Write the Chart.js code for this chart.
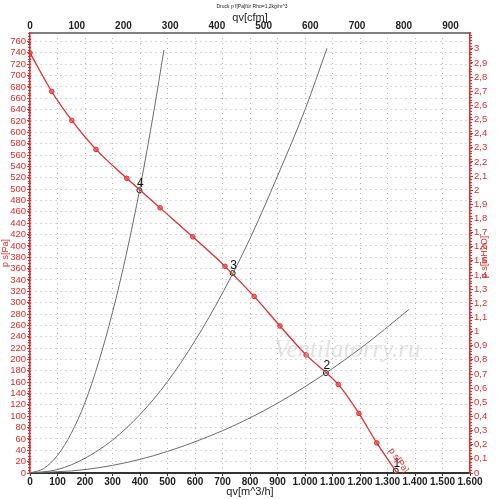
<!DOCTYPE html>
<html>
<head>
<meta charset="utf-8">
<script src="https://cdn.jsdelivr.net/npm/chart.js@4"></script>
<style>
    html, body { margin: 0; padding: 0; background: #fff; }
    #wrap { width: 500px; height: 499px; position: relative; }
</style>
</head>
<body>
<div id="wrap"><canvas id="fanChart"></canvas></div>
<script>
// fan curve p s over qv
const fanQ = [0, 79, 152, 240, 352, 473, 592, 709, 815, 909, 1004, 1121, 1196, 1261, 1335];
const fanP = [740, 672, 621, 570, 519, 467, 416, 364, 311, 259, 208, 156, 105, 53, 0];

// system curves (grey parabolas through the origin)
const sys4Q = [0, 50, 100, 150, 200, 250, 300, 350, 400, 450, 487];
const sys4P = [0, 8, 31, 70, 124, 196, 283, 385, 502, 636, 745];
const sys3Q = [0, 100, 200, 300, 400, 500, 600, 700, 800, 900, 1000, 1080];
const sys3P = [0, 6, 26, 58, 103, 161, 233, 317, 413, 523, 640, 748];
const sys2Q = [0, 200, 400, 600, 800, 1000, 1200, 1378];
const sys2P = [0, 6, 24, 55, 97, 152, 219, 288];

// operating points where the system curves cross the fan curve
const opQ = [1330, 1076, 737, 398];
const opP = [4, 176, 352, 498];
const opLabels = ["1", "2", "3", "4"];

const qvMax = 1600;
const paMax = 775;
const inH2OLabelMax = 3;
const cfmPerM3h = 1 / 1.699;
const inH2OPerPa = 1 / 249.089;

const RED = "#e32b2b";
const FONT = "'Liberation Sans', Arial, sans-serif";

function thousands(v) {
    if (v < 1000) return String(v);
    return Math.floor(v / 1000) + "." + String(v % 1000).padStart(3, "0");
}

function commaDecimal(v) {
    if (v > inH2OLabelMax + 0.01) return null;
    return String(Number(v.toFixed(1))).replace(".", ",");
}

function pts(xs, ys) {
    return xs.map((x, i) => ({ x, y: ys[i] }));
}

function systemCurve(xs, ys) {
    return {
        data: pts(xs, ys),
        showLine: true,
        borderColor: "#6b6b6b",
        borderWidth: 1,
        pointRadius: 0,
        cubicInterpolationMode: "monotone",
    };
}

// titles, rulers, point numbers and the watermark
const decorations = {
    id: "decorations",
    afterDraw(chart) {
        const { ctx, chartArea, scales } = chart;
        const y = scales.y;
        const y2 = scales.y2;
        ctx.save();

        // fine ruler marks on both pressure axes
        ctx.strokeStyle = RED;
        ctx.lineWidth = 1;
        for (let v = 0; v <= paMax; v += 5) {
            const py = Math.round(y.getPixelForValue(v)) + 0.5;
            ctx.beginPath();
            ctx.moveTo(chartArea.left - 2, py);
            ctx.lineTo(chartArea.left + 1, py);
            ctx.stroke();
        }
        for (let v = 0; v <= paMax * inH2OPerPa; v += 0.02) {
            const py = Math.round(y2.getPixelForValue(v)) + 0.5;
            ctx.beginPath();
            ctx.moveTo(chartArea.right - 1, py);
            ctx.lineTo(chartArea.right + 2, py);
            ctx.stroke();
        }

        // operating point numbers
        ctx.fillStyle = "#111";
        ctx.font = "12px " + FONT;
        ctx.textAlign = "center";
        ctx.textBaseline = "bottom";
        opLabels.forEach((label, i) => {
            const px = scales.x.getPixelForValue(opQ[i]);
            const py = y.getPixelForValue(opP[i]);
            ctx.fillText(label, px + 1, py - 1);
        });

        // curve label running along the fan curve near its end
        ctx.save();
        ctx.translate(scales.x.getPixelForValue(1340), y.getPixelForValue(22));
        ctx.rotate(55 * Math.PI / 180);
        ctx.fillStyle = RED;
        ctx.font = "9px " + FONT;
        ctx.textAlign = "center";
        ctx.textBaseline = "middle";
        ctx.fillText("p s[Pa]", 0, 0);
        ctx.restore();

        // axis titles
        ctx.fillStyle = "#222";
        ctx.textAlign = "center";
        ctx.textBaseline = "middle";
        ctx.font = "5px " + FONT;
        ctx.fillText("Druck p f[Pa]für Rho=1,2kg/m^3", 252, 7);
        ctx.font = "11px " + FONT;
        ctx.fillText("qv[cfm]", (chartArea.left + chartArea.right) / 2, 18);
        ctx.fillText("qv[m^3/h]", (chartArea.left + chartArea.right) / 2, 492);

        ctx.fillStyle = RED;
        ctx.font = "9px " + FONT;
        ctx.save();
        ctx.translate(6, (chartArea.top + chartArea.bottom) / 2);
        ctx.rotate(-Math.PI / 2);
        ctx.fillText("p s[Pa]", 0, 0);
        ctx.restore();
        ctx.save();
        ctx.translate(485, (chartArea.top + chartArea.bottom) / 2 + 4);
        ctx.rotate(-Math.PI / 2);
        ctx.fillText("p s[inH2O]", 0, 0);
        ctx.restore();

        // watermark
        ctx.font = "italic 25px 'Liberation Serif', serif";
        ctx.fillStyle = "rgba(190, 190, 190, 0.45)";
        ctx.textAlign = "left";
        ctx.fillText("Ventilatorry.ru", 274, 350);

        ctx.restore();
    },
};

const ctx = document.getElementById("fanChart");
new Chart(ctx, {
    type: "scatter",
    data: {
        datasets: [
            systemCurve(sys4Q, sys4P),
            systemCurve(sys3Q, sys3P),
            systemCurve(sys2Q, sys2P),
            {
                data: pts(fanQ, fanP),
                showLine: true,
                borderColor: RED,
                borderWidth: 1.3,
                pointRadius: fanQ.map((q, i) => (i === fanQ.length - 1 ? 0 : 2.3)),
                pointBackgroundColor: "rgba(235, 80, 80, 0.7)",
                pointBorderColor: RED,
                pointBorderWidth: 1,
                cubicInterpolationMode: "monotone",
            },
            {
                data: pts(opQ, opP),
                showLine: false,
                pointRadius: 2.5,
                pointBackgroundColor: "#fff",
                pointBorderColor: "#111",
                pointBorderWidth: 1,
            },
        ],
    },
    options: {
        responsive: true,
        maintainAspectRatio: false,
        animation: false,
        events: [],
        layout: { padding: 0 },
        plugins: { legend: { display: false }, tooltip: { enabled: false } },
        scales: {
            x: {
                type: "linear",
                position: "bottom",
                min: 0,
                max: qvMax,
                afterFit: (s) => { s.height = 26; },
                ticks: {
                    stepSize: 100,
                    padding: 0,
                    maxRotation: 0,
                    autoSkip: false,
                    color: "#222",
                    font: { family: FONT, size: 10, weight: "bold" },
                    callback: (v) => thousands(v),
                },
                grid: { color: "#b5b5b5", tickLength: 3, tickColor: "#333", tickBorderDash: [] },
                border: { color: "#333", width: 2, dash: [1, 4] },
            },
            x2: {
                type: "linear",
                position: "top",
                display: true,
                min: 0,
                max: qvMax * cfmPerM3h,
                afterFit: (s) => { s.height = 33; },
                ticks: {
                    stepSize: 100,
                    includeBounds: false,
                    padding: 0,
                    maxRotation: 0,
                    autoSkip: false,
                    color: "#222",
                    font: { family: FONT, size: 10, weight: "bold" },
                },
                grid: { drawOnChartArea: false, tickLength: 1, color: "#777" },
                border: { color: "#808080", width: 2 },
            },
            y: {
                type: "linear",
                position: "left",
                min: 0,
                max: paMax,
                afterFit: (s) => { s.width = 30; },
                ticks: {
                    stepSize: 20,
                    includeBounds: false,
                    padding: 1,
                    autoSkip: false,
                    color: RED,
                    font: { family: FONT, size: 9.5 },
                },
                grid: { color: "#b5b5b5", tickLength: 3, tickColor: RED, tickBorderDash: [] },
                border: { color: RED, width: 1.5, dash: [1, 4] },
            },
            y2: {
                type: "linear",
                position: "right",
                display: true,
                min: 0,
                max: paMax * inH2OPerPa,
                afterFit: (s) => { s.width = 30; },
                ticks: {
                    stepSize: 0.1,
                    includeBounds: false,
                    padding: 1,
                    autoSkip: false,
                    color: RED,
                    font: { family: FONT, size: 9.5 },
                    callback: (v) => commaDecimal(v),
                },
                grid: { drawOnChartArea: false, tickLength: 3, color: RED },
                border: { color: RED, width: 1.5 },
            },
        },
    },
    plugins: [decorations],
});
</script>
</body>
</html>
